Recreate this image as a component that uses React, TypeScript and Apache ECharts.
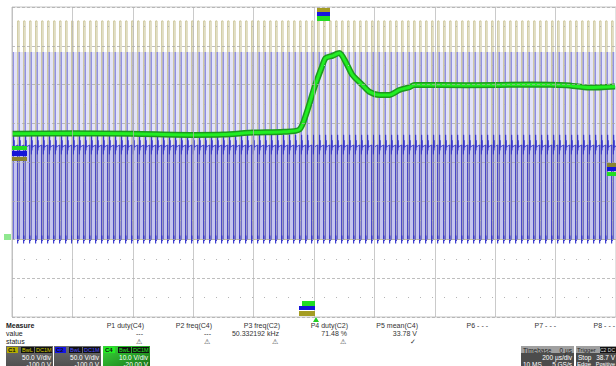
import React, { useEffect, useRef } from "react";
import * as echarts from "echarts";

const xRangeUs = [-1000, 1000]; // 200 µs/div, trigger at centre
const xDivUs = 200;
const c12RangeV = [-100, 300]; // 50 V/div, offset -100 V
const c12DivV = 50;
const c4RangeV = [-20, 60]; // 10 V/div, offset -20 V
const c4DivV = 10;

// ---- C2 (blue) square wave, from the P3 / P4 readouts ----
const c2FreqKHz = 50.332192;
const c2DutyPct = 71.48;
const c2LevelsV = [0, 122, 242]; // low, high, overshoot peak
const c2FirstRiseUs = -996;
const c2RingHighV = [-12, 13, -7, 6, -3];
const c2RingLowV = [-5, 5, -2];

// ---- C1 (olive) gate pulses, high while C2 is low ----
const c1LevelsV = [0, 282];
const c1DeadUs = 0.6;

// ---- C4 (green) trace ----
const c4TimeUs = [-1000, -800, -600, -400, -300, -200, -100, -48, -25, 2, 25, 38, 61, 84, 107, 127, 160, 184, 217, 250, 283, 316, 332, 504, 722, 835, 911, 997];
const c4Volts = [27.3, 27.4, 27.3, 27.0, 27.1, 27.6, 27.8, 28.4, 32.6, 39.4, 44.3, 46.8, 47.4, 48.1, 45.5, 42.5, 39.9, 38.1, 37.3, 37.3, 38.6, 39.3, 39.9, 39.8, 40.0, 39.8, 39.2, 39.5];

// ---- measurement table ----
const measureHeaders = ["P1 duty(C4)", "P2 freq(C4)", "P3 freq(C2)", "P4 duty(C2)", "P5 mean(C4)", "P6 - - -", "P7 - - -", "P8 - - -"];
const measureValues = ["---", "---", "50.332192 kHz", "71.48 %", "33.78 V", "", "", ""];
const measureStatus = ["⚠", "⚠", "⚠", "⚠", "✓", "", "", ""];
const rowLabels = ["Measure", "value", "status"];

// ---- channel descriptors ----
const channelNames = ["C1", "C2", "C4"];
const channelScales = ["50.0 V/div", "50.0 V/div", "10.0 V/div"];
const channelOffsets = ["-100.0 V", "-100.0 V", "-20.00 V"];
const timebaseTexts = ["Timebase", "0 µs", "200 µs/div", "10 MS", "5 GS/s"];
const triggerTexts = ["Trigger", "C2 DC", "Stop", "38.7 V", "Edge", "Positive"];

const FONT = '"Liberation Sans", Arial, sans-serif';

function buildPulses() {
  const T = 1000 / c2FreqKHz;
  const hi = (T * c2DutyPct) / 100;
  const [low, high, peak] = c2LevelsV;
  const main: any[] = [];
  const spikes: any[] = [];
  const c1: any[] = [];
  for (let t = c2FirstRiseUs; t < xRangeUs[1] + T; t += T) {
    const fall = t + hi;
    main.push([t, low], [t, high]);
    c2RingHighV.forEach((d, i) => main.push([t + (i + 1) * 0.7, high + d]));
    main.push([fall, high], [fall, low]);
    c2RingLowV.forEach((d, i) => main.push([fall + (i + 1) * 0.5, low + d]));
    spikes.push([t, high], [t + 0.15, peak], [t + 0.6, high], [t + 0.6, "-"]);
    const r = fall + c1DeadUs;
    const f = t + T - c1DeadUs;
    c1.push([r, c1LevelsV[0]], [r, c1LevelsV[1]], [f, c1LevelsV[1]], [f, c1LevelsV[0]]);
  }
  return { main, spikes, c1 };
}

function txt(x: number, y: number, text: string, fill: string, size: number, align = "left", weight = "normal", z = 20) {
  return {
    type: "text",
    x,
    y,
    z,
    style: {
      text,
      fill,
      font: `${weight} ${size}px ${FONT}`,
      textAlign: align,
      textVerticalAlign: "middle",
      align,
      verticalAlign: "middle",
    },
  };
}

function rect(x: number, y: number, w: number, h: number, fill: any, z = 15) {
  return { type: "rect", x, y, z, shape: { x: 0, y: 0, width: w, height: h }, style: { fill } };
}

function buildGraphics() {
  const g: any[] = [];
  // top trigger-position markers
  g.push(rect(317, 8, 13, 4, "#a49c22"), rect(317, 12, 13, 4, "#1616e0"), rect(317, 16, 13, 5, "#22dd22"));
  // left offset markers
  g.push(rect(12, 146, 15, 4, "#22dd22"), rect(12, 151, 15, 5, "#1414d8"), rect(12, 157, 15, 4, "#8a8430"));
  g.push(rect(4, 234, 7, 6, "#8fe88f"));
  // right markers
  g.push(rect(607, 163, 10, 4, "#8a8430"), rect(607, 167, 10, 4, "#1414d8"), rect(607, 172, 10, 4, "#22dd22"));
  // bottom markers
  g.push(rect(302, 301, 13, 5, "#22dd22"), rect(299, 306, 16, 4, "#1414d8"), rect(299, 311, 16, 5, "#a49c22"));
  g.push({ type: "polygon", z: 16, shape: { points: [[313, 322], [316, 317], [319, 322]] }, style: { fill: "#22cc22" } });

  // measurement table
  const rowY = [325, 333, 341];
  rowLabels.forEach((l, i) => g.push(txt(6, rowY[i], l, "#222", 7, "left", i === 0 ? "bold" : "normal")));
  const colRight = [144, 212, 280, 348, 418, 488, 556, 615];
  measureHeaders.forEach((h, i) => g.push(txt(colRight[i], rowY[0], h, "#333", 7, "right")));
  measureValues.forEach((v, i) => v && g.push(txt(colRight[i] - 1, rowY[1], v, "#333", 7, "right")));
  measureStatus.forEach((s, i) => s && g.push(txt(colRight[i] - 2, rowY[2], s, "#333", 7, "right")));

  // channel boxes
  const boxX = [6, 54, 103];
  const labelFill = ["#b4ac00", "#1414e6", "#22ee22"];
  const badgeText = ["#d8cf00", "#4a4aff", "#22ee22"];
  channelNames.forEach((n, i) => {
    const x = boxX[i];
    const bg =
      i === 2
        ? new echarts.graphic.LinearGradient(0, 0, 1, 1, [
            { offset: 0, color: "#3ad83a" },
            { offset: 1, color: "#176e17" },
          ])
        : new echarts.graphic.LinearGradient(0, 0, 0, 1, [
            { offset: 0, color: "#6c6c6c" },
            { offset: 1, color: "#4e4e4e" },
          ]);
    g.push(rect(x, 346, 47, 22, bg, 14));
    g.push(rect(x + 1, 347, 11, 6, labelFill[i]));
    g.push(txt(x + 2, 350, n, "#111", 6, "left", "bold"));
    g.push(rect(x + 15, 347, 13, 6, "#111"));
    g.push(txt(x + 16, 350, "BwL", badgeText[i], 5.5));
    g.push(rect(x + 29, 347, 17, 6, "#111"));
    g.push(txt(x + 30, 350, "DC1M", badgeText[i], 5.5));
    g.push(txt(x + 45, 357, channelScales[i], "#fff", 6.5, "right"));
    g.push(txt(x + 45, 364, channelOffsets[i], "#fff", 6.5, "right"));
  });

  // timebase box
  g.push(rect(521, 346, 53, 22, "#4c4c4c", 14));
  g.push(rect(521, 346, 53, 7, "#a0a0a0"));
  g.push(txt(523, 350, timebaseTexts[0], "#222", 6.5));
  g.push(txt(572, 350, timebaseTexts[1], "#222", 6.5, "right"));
  g.push(txt(572, 357, timebaseTexts[2], "#fff", 6.5, "right"));
  g.push(txt(523, 364, timebaseTexts[3], "#fff", 6.5));
  g.push(txt(572, 364, timebaseTexts[4], "#fff", 6.5, "right"));

  // trigger box
  g.push(rect(576, 346, 41, 22, "#4c4c4c", 14));
  g.push(rect(576, 346, 41, 7, "#a0a0a0"));
  g.push(txt(577, 350, triggerTexts[0], "#222", 6));
  g.push(rect(600, 347, 16, 6, "#111"));
  g.push(txt(615, 350, triggerTexts[1], "#ddd", 5, "right"));
  g.push(txt(578, 357, triggerTexts[2], "#fff", 6.5));
  g.push(txt(615, 357, triggerTexts[3], "#fff", 6.5, "right"));
  g.push(txt(577, 364, triggerTexts[4], "#fff", 6));
  g.push(txt(615, 364, triggerTexts[5], "#fff", 5.5, "right"));
  return g;
}

export default function App() {
  const ref = useRef<HTMLDivElement>(null);
  useEffect(() => {
    if (!ref.current) return;
    const chart = echarts.init(ref.current, null, { renderer: "svg" });
    const { main, spikes, c1 } = buildPulses();
    const c4 = c4TimeUs.map((t, i) => [t, c4Volts[i]]);
    const option: any = {
      animation: false,
      backgroundColor: "#ffffff",
      grid: { left: 12, top: 7, width: 605, height: 310, show: true, borderColor: "#c4c4c4", borderWidth: 1, backgroundColor: "#fff" },
      xAxis: {
        type: "value",
        min: xRangeUs[0],
        max: xRangeUs[1],
        interval: xDivUs,
        z: 8,
        axisLine: { show: false },
        axisTick: { show: false },
        axisLabel: { show: false },
        splitLine: { show: true, lineStyle: { color: "#b4b4b4", width: 1, opacity: 0.7 } },
      },
      yAxis: [
        {
          type: "value",
          min: c12RangeV[0],
          max: c12RangeV[1],
          interval: c12DivV,
          z: 8,
          axisLine: { show: false },
          axisTick: { show: false },
          axisLabel: { show: false },
          splitLine: { show: true, lineStyle: { color: "#a8a8a8", type: [3, 2], opacity: 0.75 } },
          minorTick: { show: false, splitNumber: 2 },
          minorSplitLine: { show: true, lineStyle: { color: "#b4b4b4", type: [1, 11] } },
        },
        {
          type: "value",
          min: c4RangeV[0],
          max: c4RangeV[1],
          interval: c4DivV,
          axisLine: { show: false },
          axisTick: { show: false },
          axisLabel: { show: false },
          splitLine: { show: false },
        },
      ],
      series: [
        {
          name: "C1",
          type: "line",
          z: 1,
          data: c1,
          showSymbol: false,
          symbol: "none",
          lineStyle: { color: "#c9c395", width: 1 },
        },
        {
          name: "C2 band",
          type: "line",
          z: 2,
          data: [],
          symbol: "none",
          markArea: {
            silent: true,
            data: [
              [
                { xAxis: xRangeUs[0], yAxis: c2LevelsV[0], itemStyle: { color: "#bcbcec", opacity: 0.88 } },
                { xAxis: xRangeUs[1], yAxis: c2LevelsV[1] },
              ],
              [
                { xAxis: xRangeUs[0], yAxis: c2LevelsV[1], itemStyle: { color: "#e0e0f7", opacity: 0.9 } },
                { xAxis: xRangeUs[1], yAxis: c2LevelsV[2] },
              ],
            ],
          },
        },
        {
          name: "C2 overshoot",
          type: "line",
          z: 3,
          data: spikes,
          connectNulls: false,
          symbol: "none",
          lineStyle: { color: "#8c8ce2", width: 1.3 },
        },
        {
          name: "C2",
          type: "line",
          z: 4,
          data: main,
          symbol: "none",
          lineStyle: { color: "#3434cc", width: 1, opacity: 0.85 },
        },
        {
          name: "C4 glow",
          type: "line",
          z: 5,
          yAxisIndex: 1,
          data: c4,
          smooth: 0.25,
          symbol: "none",
          lineStyle: { color: "#1d9a1d", width: 6 },
        },
        {
          name: "C4",
          type: "line",
          z: 6,
          yAxisIndex: 1,
          data: c4,
          smooth: 0.25,
          symbol: "none",
          lineStyle: { color: "#22ee22", width: 3 },
        },
      ],
      graphic: buildGraphics(),
    };
    chart.setOption(option);
    return () => chart.dispose();
  }, []);
  return (
    <div
      ref={ref}
      style={{ position: "fixed", left: 0, top: 0, width: 616, height: 366, background: "#fff" }}
    />
  );
}
